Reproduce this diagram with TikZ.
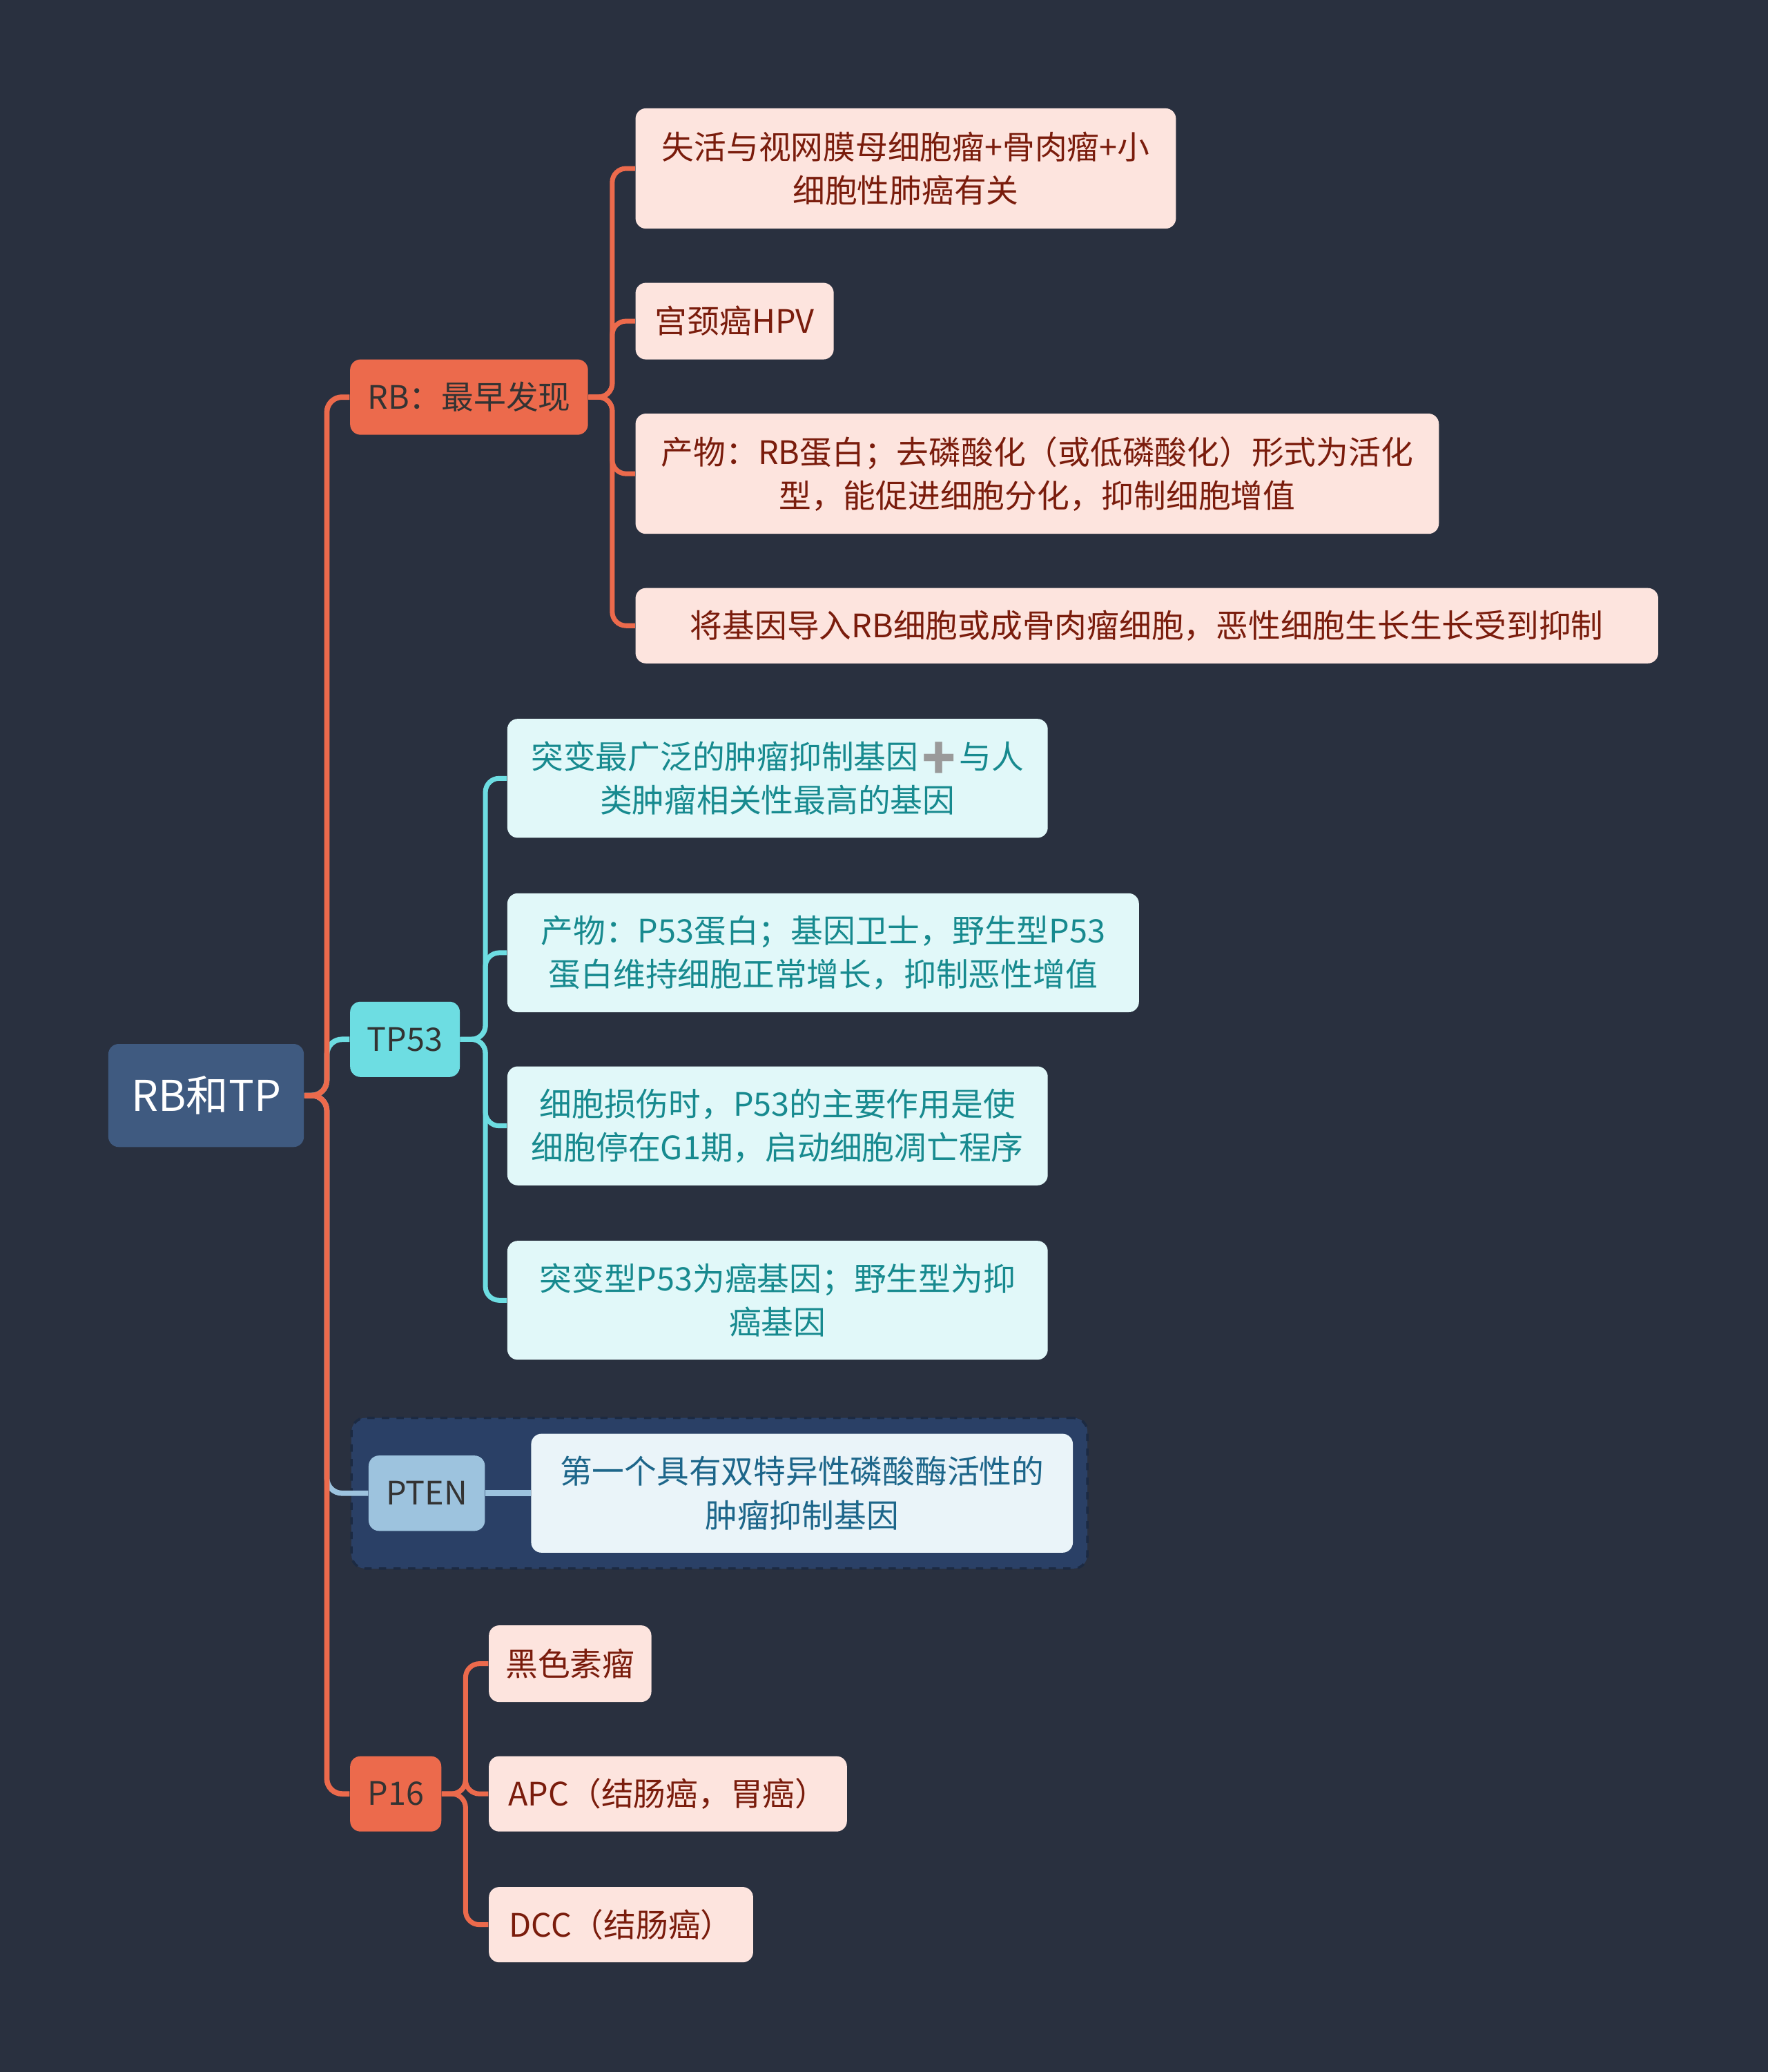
\documentclass[tikz,border=0pt]{standalone}
\usepackage{fontspec}
\setmainfont{Noto Sans CJK SC}
\newfontfamily\emofont{Noto Emoji}
\definecolor{bg}{HTML}{29303F}
\definecolor{rootc}{HTML}{3F5A80}
\definecolor{orng}{HTML}{EC6A4C}
\definecolor{orl}{HTML}{FDE4DE}
\definecolor{ort}{HTML}{7A1C0C}
\definecolor{cyn}{HTML}{6DDDE2}
\definecolor{cyl}{HTML}{E1F8F9}
\definecolor{cyt}{HTML}{178A8F}
\definecolor{blu}{HTML}{9DC3DE}
\definecolor{bll}{HTML}{EAF4F9}
\definecolor{blt}{HTML}{1D668A}
\definecolor{grp}{HTML}{2A4066}
\definecolor{grpd}{HTML}{1C2A42}
\definecolor{knot}{HTML}{333333}
\definecolor{plusg}{HTML}{9A9A9A}
\newcommand\px{0.019133cm}
\tikzset{
  box/.style={rounded corners=0.15cm,inner sep=0pt,align=center,font=\fontsize{13.3}{18}\selectfont},
  rootbox/.style={box,fill=rootc,text=white,font=\fontsize{17.5}{21}\selectfont},
  orbox/.style={box,fill=orng,text=knot},
  orleaf/.style={box,fill=orl,text=ort},
  cybox/.style={box,fill=cyn,text=knot},
  cyleaf/.style={box,fill=cyl,text=cyt},
  blbox/.style={box,fill=blu,text=knot},
  blleaf/.style={box,fill=bll,text=blt},
  grpbox/.style={rounded corners=0.2cm,fill=grp,draw=grpd,dashed,line width=1pt},
  spine/.style={line width=2.2pt,rounded corners=0.22cm},
  twig/.style={line width=2pt,rounded corners=0.2cm},
}

\begin{document}
\begin{tikzpicture}[x=\px,y=-\px]
  \fill[bg] (0,0) rectangle (1338,1568);
  \useasboundingbox (0,0) rectangle (1338,1568);

  % PTEN group
  \node[grpbox,minimum width=557*\px,minimum height=114*\px] (grp) at (544.5,1130) {};

  % nodes
  \node[rootbox,minimum width=148*\px,minimum height=78*\px] (root) at (156,829) {RB和TP};

  \node[orbox,minimum width=180*\px,minimum height=57*\px] (rb) at (355,300.5) {RB：最早发现};
  \node[orleaf,minimum width=409*\px,minimum height=91*\px] (rbA) at (685.5,127.5) {失活与视网膜母细胞瘤+骨肉瘤+小\\细胞性肺癌有关};
  \node[orleaf,minimum width=150*\px,minimum height=58*\px] (rbB) at (556,243) {宫颈癌HPV};
  \node[orleaf,minimum width=608*\px,minimum height=91*\px] (rbC) at (785,358.5) {产物：RB蛋白；去磷酸化（或低磷酸化）形式为活化\\型，能促进细胞分化，抑制细胞增值};
  \node[orleaf,minimum width=774*\px,minimum height=57*\px] (rbD) at (868,473.5) {将基因导入RB细胞或成骨肉瘤细胞，恶性细胞生长生长受到抑制};

  \node[cybox,minimum width=83*\px,minimum height=57*\px] (tp) at (306.5,786.5) {TP53};
  \node[cyleaf,minimum width=409*\px,minimum height=90*\px] (tpA) at (588.5,589) {突变最广泛的肿瘤抑制基因{\emofont\textcolor{plusg}{➕}}与人\\类肿瘤相关性最高的基因};
  \node[cyleaf,minimum width=478*\px,minimum height=90*\px] (tpB) at (623,721) {产物：P53蛋白；基因卫士，野生型P53\\蛋白维持细胞正常增长，抑制恶性增值};
  \node[cyleaf,minimum width=409*\px,minimum height=90*\px] (tpC) at (588.5,852) {细胞损伤时，P53的主要作用是使\\细胞停在G1期，启动细胞凋亡程序};
  \node[cyleaf,minimum width=409*\px,minimum height=90*\px] (tpD) at (588.5,984) {突变型P53为癌基因；野生型为抑\\癌基因};

  \node[blbox,minimum width=88*\px,minimum height=57*\px] (pten) at (323,1130) {PTEN};
  \node[blleaf,minimum width=410*\px,minimum height=90*\px] (ptenA) at (607,1130) {第一个具有双特异性磷酸酶活性的\\肿瘤抑制基因};

  \node[orbox,minimum width=69*\px,minimum height=57*\px] (p16) at (299.5,1357.5) {P16};
  \node[orleaf,minimum width=123*\px,minimum height=58*\px] (p16A) at (431.5,1259) {黑色素瘤};
  \node[orleaf,minimum width=271*\px,minimum height=57*\px] (p16B) at (505.5,1357.5) {APC（结肠癌，胃癌）};
  \node[orleaf,minimum width=200*\px,minimum height=57*\px] (p16C) at (470,1456.5) {DCC（结肠癌）};

  % main branches
  \draw[spine,cyn] (root.east) -- ++(17,0) |- (tp.west);
  \draw[spine,blu] (root.east) -- ++(17,0) |- (pten.west);
  \draw[spine,orng] (root.east) -- ++(17,0) |- (rb.west);
  \draw[spine,orng] (root.east) -- ++(17,0) |- (p16.west);

  % RB
  \foreach \k in {rbA,rbB,rbC,rbD}
    \draw[twig,orng] (rb.east) -- ++(18,0) |- (\k.west);
  % TP53
  \foreach \k in {tpA,tpB,tpC,tpD}
    \draw[twig,cyn] (tp.east) -- ++(19,0) |- (\k.west);
  % PTEN
  \draw[twig,blu,line width=2.6pt] (pten.east) -- (ptenA.west);
  % P16
  \foreach \k in {p16A,p16B,p16C}
    \draw[twig,orng] (p16.east) -- ++(18,0) |- (\k.west);
\end{tikzpicture}
\end{document}
